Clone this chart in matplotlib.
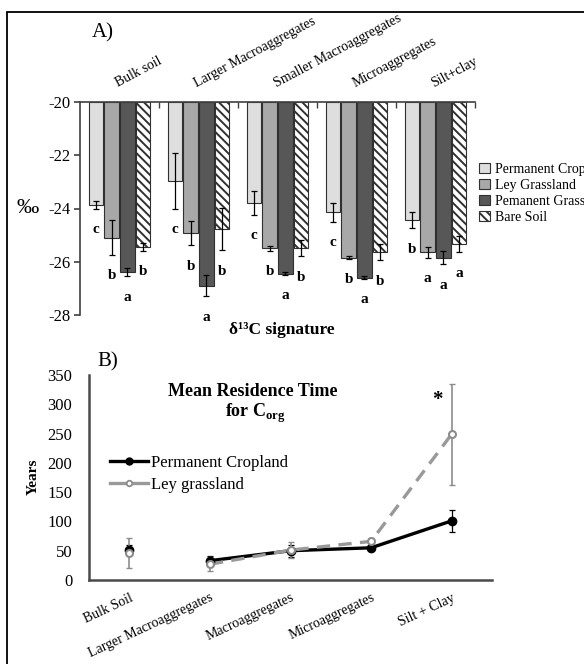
import matplotlib
matplotlib.use('Agg')
import matplotlib.pyplot as plt
import numpy as np
from matplotlib.patches import Patch, Rectangle
from matplotlib.lines import Line2D

plt.rcParams['font.family'] = ['Liberation Serif', 'DejaVu Serif']
plt.rcParams['mathtext.fontset'] = 'custom'
plt.rcParams['mathtext.rm'] = 'Liberation Serif'
plt.rcParams['mathtext.bf'] = 'Liberation Serif:bold'
plt.rcParams['hatch.linewidth'] = 1.4

# ---------------- Panel A data ----------------
fractions_a = ["Bulk soil", "Larger Macroaggregates", "Smaller Macroaggregates",
               "Microaggregates", "Silt+clay"]
landuses = ["Permanent Cropland", "Ley Grassland", "Pemanent Grassland", "Bare Soil"]
crop_a = [-23.85, -22.95, -23.80, -24.15, -24.45]
crop_a_err = [0.15, 1.05, 0.45, 0.35, 0.30]
ley_a = [-25.10, -24.93, -25.50, -25.85, -25.65]
ley_a_err = [0.65, 0.45, 0.10, 0.05, 0.20]
grass_a = [-26.40, -26.90, -26.45, -26.60, -25.85]
grass_a_err = [0.15, 0.40, 0.05, 0.05, 0.25]
bare_a = [-25.45, -24.77, -25.50, -25.65, -25.35]
bare_a_err = [0.15, 0.80, 0.30, 0.30, 0.30]
crop_let = ['c', 'c', 'c', 'c', 'b']
ley_let = ['b', 'b', 'b', 'b', 'a']
grass_let = ['a', 'a', 'a', 'a', 'a']
bare_let = ['b', 'b', 'b', 'b', 'a']
yticks_a = [-28, -26, -24, -22, -20]

# ---------------- Panel B data ----------------
fractions_b = ["Bulk Soil", "Larger Macroaggregates", "Macroaggregates",
               "Microaggregates", "Silt + Clay"]
crop_b = [52, 33, 50, 55, 101]
crop_b_err = [8, 8, 10, 4, 19]
ley_b = [46, 27, 51, 66, 249]
ley_b_err = [25, 12, 14, 5, 86]
yticks_b = [0, 50, 100, 150, 200, 250, 300, 350]

W, H = 584, 664
fig = plt.figure(figsize=(W / 100, H / 100), dpi=100)

# outer frame
fig.patches.append(Rectangle((7 / W, -0.05), 1.2, 1 - 12 / H + 0.05,
                             transform=fig.transFigure, fill=False,
                             edgecolor='black', linewidth=1.3))

# ---------------- Panel A ----------------
axA = fig.add_axes([80 / W, 1 - 315 / H, 395 / W, 213 / H])
x = np.arange(len(fractions_a))
series = [crop_a, ley_a, grass_a, bare_a]
errs = [crop_a_err, ley_a_err, grass_a_err, bare_a_err]
lets = [crop_let, ley_let, grass_let, bare_let]
fcs = ['#dedede', '#a8a8a8', '#575757', 'white']
hatches = [None, None, None, '\\\\\\\\']
bw = 0.18
offs = [-0.3, -0.1, 0.1, 0.3]
for vals, er, lt, fc, ht, off, lab in zip(series, errs, lets, fcs, hatches, offs, landuses):
    v = np.array(vals)
    axA.bar(x + off, v + 20, bottom=-20, width=bw, color=fc, edgecolor='#303030',
            linewidth=0.8, hatch=ht, label=lab, zorder=2)
    axA.errorbar(x + off, v, yerr=er, fmt='none', ecolor='black', elinewidth=0.9,
                 capsize=2.5, capthick=0.9, zorder=3)
    for xi, vi, ei, li in zip(x + off, v, er, lt):
        axA.text(xi, vi - ei - 0.78, li, ha='center', va='center',
                 fontsize=11, fontweight='bold')

axA.set_ylim(-28, -20)
axA.set_xlim(-0.5, 4.5)
axA.set_yticks(yticks_a)
axA.set_yticklabels([str(t) for t in yticks_a], fontsize=12)
axA.spines['right'].set_visible(False)
axA.spines['bottom'].set_visible(False)
for s in ['left', 'top']:
    axA.spines[s].set_color('#404040')
    axA.spines[s].set_linewidth(1.2)
axA.tick_params(axis='y', direction='out', length=4, width=1.2, color='#404040', pad=3)
axA.xaxis.tick_top()
axA.set_xticks(x)
axA.set_xticklabels(fractions_a, rotation=28, ha='left', va='bottom',
                    rotation_mode='anchor', fontsize=10)
axA.tick_params(axis='x', which='major', length=0, pad=9)
axA.set_xticks(np.arange(0.5, 5, 1.0), minor=True)
axA.tick_params(axis='x', which='minor', direction='in', length=4, width=1.0,
                color='#404040', top=True, bottom=False)

fig.text(92 / W, 1 - 33 / H, "A)", fontsize=15, ha='left', va='center')
fig.text(28 / W, 1 - 209 / H, "‰", fontsize=16, ha='center', va='center')
fig.text(282 / W, 1 - 330 / H, "δ¹³C signature", fontsize=12.5, fontweight='bold',
         ha='center', va='center')

handles = [Patch(facecolor=fc, edgecolor='#303030', hatch=ht, linewidth=0.8)
           for fc, ht in zip(fcs, hatches)]
fig.legend(handles, landuses, loc='upper left', bbox_to_anchor=(479 / W, 1 - 163 / H),
           frameon=False, fontsize=10, handlelength=0.8, handleheight=0.7,
           handletextpad=0.35, labelspacing=0.22, borderpad=0, borderaxespad=0)

# ---------------- Panel B ----------------
axB = fig.add_axes([89 / W, 1 - 580 / H, 403 / W, 205 / H])
xb = np.arange(len(fractions_b))
axB.errorbar(xb, crop_b, yerr=crop_b_err, fmt='none', ecolor='black',
             elinewidth=0.9, capsize=2.5, capthick=0.9, zorder=3)
axB.errorbar(xb, ley_b, yerr=ley_b_err, fmt='none', ecolor='#8c8c8c',
             elinewidth=1.2, capsize=2.5, capthick=1.0, zorder=3)
axB.plot(xb[1:], crop_b[1:], color='black', linewidth=2.4, zorder=4)
axB.plot(xb[1:], ley_b[1:], color='#999999', linewidth=2.4, linestyle=(0, (4, 2.5)), zorder=4)
axB.plot(xb, crop_b, linestyle='none', marker='o', color='black', markersize=6, zorder=5)
axB.plot(xb, ley_b, linestyle='none', marker='o', markerfacecolor='white',
         markeredgecolor='#8c8c8c', markeredgewidth=1.5, markersize=5, zorder=6)

axB.set_xlim(-0.5, 4.5)
axB.set_ylim(0, 350)
axB.set_yticks(yticks_b)
axB.set_yticklabels([str(t) for t in yticks_b], fontsize=12)
axB.set_xticks(xb)
axB.set_xticklabels(fractions_b, rotation=25, ha='right', va='top',
                    rotation_mode='anchor', fontsize=10)
axB.tick_params(axis='both', length=0)
axB.tick_params(axis='x', pad=8)
axB.tick_params(axis='y', pad=12)
axB.spines['right'].set_visible(False)
axB.spines['top'].set_visible(False)
for s in ['left', 'bottom']:
    axB.spines[s].set_color('#4a4a4a')
    axB.spines[s].set_linewidth(1.8)

axB.annotate("*", xy=(xb[4], ley_b[4] + ley_b_err[4]), xytext=(-10, -12),
             textcoords='offset points', ha='center', va='center',
             fontsize=15, fontweight='bold')

fig.text(97 / W, 1 - 362 / H, "B)", fontsize=15, ha='left', va='center')
fig.text(253 / W, 1 - 392 / H, "Mean Residence Time", fontsize=13,
         fontweight='bold', ha='center', va='center')
fig.text(255 / W, 1 - 413 / H, r"for C$_{\mathbf{org}}$", fontsize=13,
         fontweight='bold', ha='center', va='center')
fig.text(33 / W, 1 - 477 / H, "Years", fontsize=11, fontweight='bold',
         rotation=90, ha='center', va='center')

hb = [Line2D([0], [0], color='black', linewidth=2.4, marker='o', markersize=5),
      Line2D([0], [0], color='#999999', linewidth=2.4, marker='o', markersize=4,
             markerfacecolor='white', markeredgecolor='#8c8c8c', markeredgewidth=1.3)]
fig.legend(hb, ["Permanent Cropland", "Ley grassland"], loc='upper left',
           bbox_to_anchor=(110 / W, 1 - 455 / H), frameon=False, fontsize=12,
           handlelength=2.3, handletextpad=0.15, labelspacing=0.35,
           borderpad=0, borderaxespad=0)

fig.savefig('out.png', dpi=100)
